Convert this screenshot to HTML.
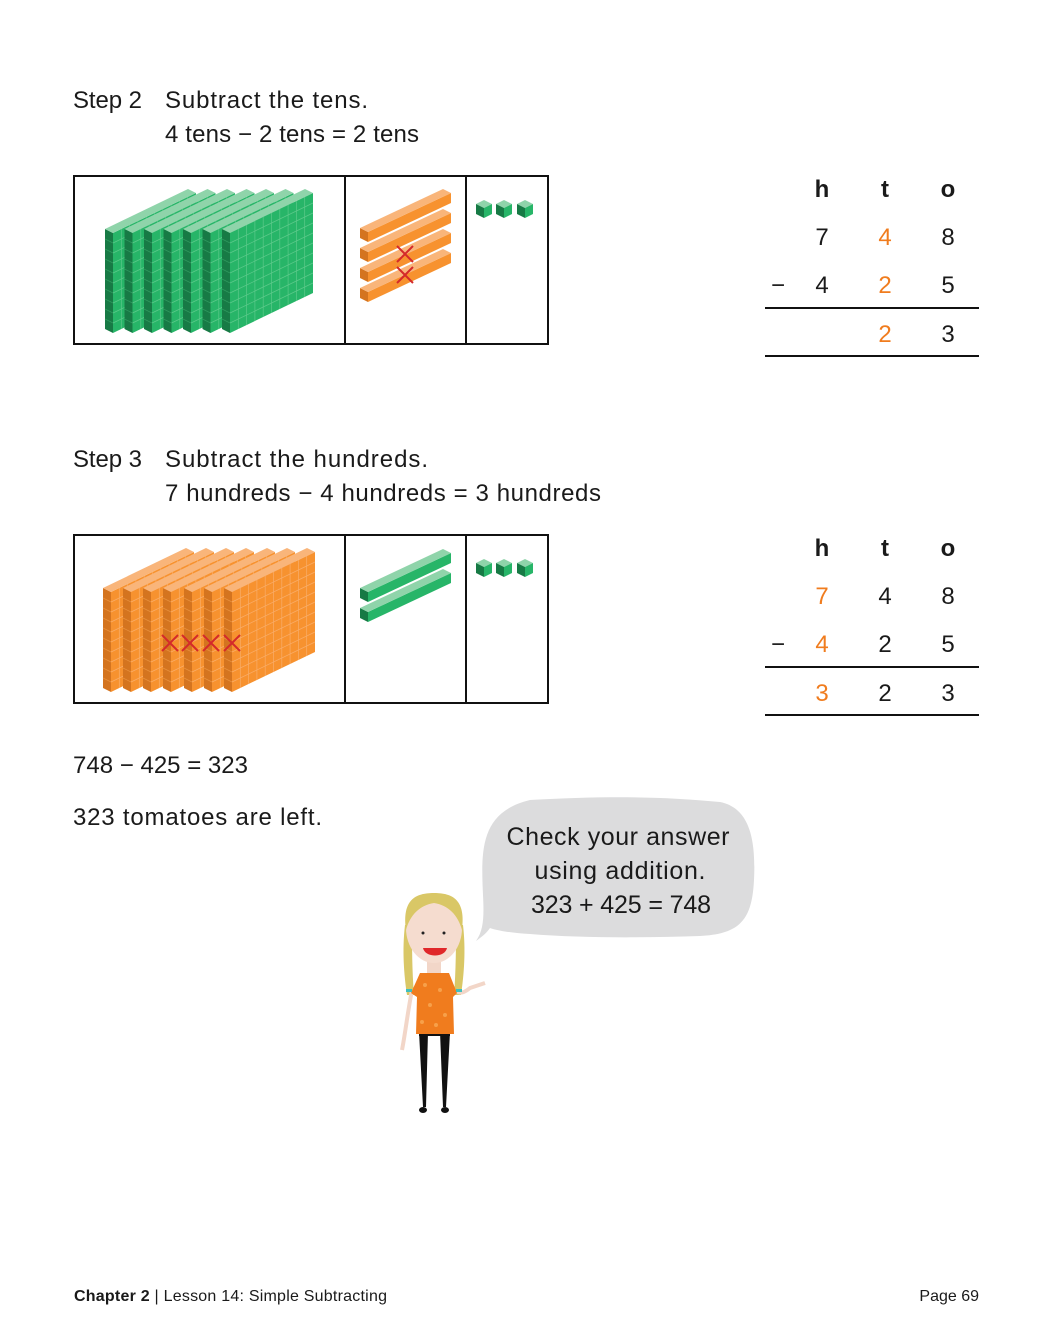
<!DOCTYPE html>
<html><head><meta charset="utf-8"><style>
html,body{margin:0;padding:0;background:#fff}
svg{display:block}
text{font-family:"Liberation Sans",sans-serif;fill:#1a1a1a}
</style></head><body>
<svg width="1040" height="1330" viewBox="0 0 1040 1330" xmlns="http://www.w3.org/2000/svg">
<defs>
<g id="gflat">
<path d="M0,3 L8,7 L8,107 L0,103 Z" fill="#177a45"/>
<path d="M8,7 L91,-33 L91,67 L8,107 Z" fill="#27b568"/>
<path d="M0,3 L8,7 L91,-33 L83,-37 Z" fill="#8fd4aa"/>
<g stroke="#5cc98a" stroke-width="0.7" fill="none">
<path d="M16.3,3 v100 M24.6,-1 v100 M32.9,-5 v100 M41.2,-9 v100 M49.5,-13 v100 M57.8,-17 v100 M66.1,-21 v100 M74.4,-25 v100 M82.7,-29 v100"/>
<path d="M8,17 L91,-23 M8,27 L91,-13 M8,37 L91,-3 M8,47 L91,7 M8,57 L91,17 M8,67 L91,27 M8,77 L91,37 M8,87 L91,47 M8,97 L91,57"/>
<path d="M0,13 L8,17 M0,23 L8,27 M0,33 L8,37 M0,43 L8,47 M0,53 L8,57 M0,63 L8,67 M0,73 L8,77 M0,83 L8,87 M0,93 L8,97" stroke="#2f9a5f"/>
</g>
</g>
<g id="oflat">
<path d="M0,3 L8,7 L8,107 L0,103 Z" fill="#d4741f"/>
<path d="M8,7 L91,-33 L91,67 L8,107 Z" fill="#f7922f"/>
<path d="M0,3 L8,7 L91,-33 L83,-37 Z" fill="#f9b57a"/>
<g stroke="#f9ad6a" stroke-width="0.7" fill="none">
<path d="M16.3,3 v100 M24.6,-1 v100 M32.9,-5 v100 M41.2,-9 v100 M49.5,-13 v100 M57.8,-17 v100 M66.1,-21 v100 M74.4,-25 v100 M82.7,-29 v100"/>
<path d="M8,17 L91,-23 M8,27 L91,-13 M8,37 L91,-3 M8,47 L91,7 M8,57 L91,17 M8,67 L91,27 M8,77 L91,37 M8,87 L91,47 M8,97 L91,57"/>
<path d="M0,13 L8,17 M0,23 L8,27 M0,33 L8,37 M0,43 L8,47 M0,53 L8,57 M0,63 L8,67 M0,73 L8,77 M0,83 L8,87 M0,93 L8,97" stroke="#e8913f"/>
</g>
</g>
<g id="orod">
<path d="M0,2 L8,6 L8,16 L0,12 Z" fill="#d4741f"/>
<path d="M8,6 L91,-33 L91,-23 L8,16 Z" fill="#f7922f"/>
<path d="M0,2 L8,6 L91,-33 L83,-37 Z" fill="#f9b57a"/>
</g>
<g id="grod">
<path d="M0,2 L8,6 L8,16 L0,12 Z" fill="#177a45"/>
<path d="M8,6 L91,-33 L91,-23 L8,16 Z" fill="#27b568"/>
<path d="M0,2 L8,6 L91,-33 L83,-37 Z" fill="#8fd4aa"/>
</g>
<g id="cube">
<path d="M0,4 L8,0 L16,4 L8,8 Z" fill="#8fd4aa"/>
<path d="M0,4 L8,8 L8,18 L0,14 Z" fill="#177a45"/>
<path d="M8,8 L16,4 L16,14 L8,18 Z" fill="#27b568"/>
</g>
<g id="xx"><path d="M-8,-8 L8,8 M8,-8 L-8,8" stroke="#d42a2a" stroke-width="2" fill="none"/></g>
</defs>

<text x="73" y="108" font-size="24" textLength="69">Step 2</text>
<text x="165" y="108" font-size="24" textLength="203">Subtract the tens.</text>
<text x="165" y="142" font-size="24" textLength="254">4 tens − 2 tens = 2 tens</text>

<rect x="74" y="176" width="474" height="168" fill="none" stroke="#111" stroke-width="2"/>
<line x1="345" y1="176" x2="345" y2="344" stroke="#111" stroke-width="2"/>
<line x1="466" y1="176" x2="466" y2="344" stroke="#111" stroke-width="2"/>
<use href="#gflat" x="105" y="226"/><use href="#gflat" x="124.5" y="226"/><use href="#gflat" x="144" y="226"/><use href="#gflat" x="163.5" y="226"/><use href="#gflat" x="183" y="226"/><use href="#gflat" x="202.5" y="226"/><use href="#gflat" x="222" y="226"/>
<use href="#orod" x="360" y="226"/><use href="#orod" x="360" y="246"/><use href="#orod" x="360" y="266"/><use href="#orod" x="360" y="286"/>
<use href="#xx" x="405" y="254"/><use href="#xx" x="405" y="275"/>
<use href="#cube" x="476" y="200"/><use href="#cube" x="496" y="200"/><use href="#cube" x="517" y="200"/>

<g font-size="24" text-anchor="middle">
<text x="822" y="197" font-weight="bold">h</text><text x="885" y="197" font-weight="bold">t</text><text x="948" y="197" font-weight="bold">o</text>
<text x="822" y="245">7</text><text x="885" y="245" style="fill:#f07c1e">4</text><text x="948" y="245">8</text>
<text x="778" y="293">−</text><text x="822" y="293">4</text><text x="885" y="293" style="fill:#f07c1e">2</text><text x="948" y="293">5</text>
<text x="885" y="342" style="fill:#f07c1e">2</text><text x="948" y="342">3</text>
</g>
<line x1="765" y1="308" x2="979" y2="308" stroke="#111" stroke-width="2"/>
<line x1="765" y1="356" x2="979" y2="356" stroke="#111" stroke-width="2"/>

<text x="73" y="467" font-size="24" textLength="69">Step 3</text>
<text x="165" y="467" font-size="24" textLength="263">Subtract the hundreds.</text>
<text x="165" y="501" font-size="24" textLength="436">7 hundreds − 4 hundreds = 3 hundreds</text>

<rect x="74" y="535" width="474" height="168" fill="none" stroke="#111" stroke-width="2"/>
<line x1="345" y1="535" x2="345" y2="703" stroke="#111" stroke-width="2"/>
<line x1="466" y1="535" x2="466" y2="703" stroke="#111" stroke-width="2"/>
<use href="#oflat" x="103" y="585"/><use href="#oflat" x="123" y="585"/><use href="#oflat" x="143" y="585"/><use href="#oflat" x="163" y="585"/><use href="#oflat" x="184" y="585"/><use href="#oflat" x="204" y="585"/><use href="#oflat" x="224" y="585"/>
<use href="#xx" x="170" y="643"/><use href="#xx" x="190" y="643"/><use href="#xx" x="211" y="643"/><use href="#xx" x="232" y="643"/>
<use href="#grod" x="360" y="586"/><use href="#grod" x="360" y="606"/>
<use href="#cube" x="476" y="559"/><use href="#cube" x="496" y="559"/><use href="#cube" x="517" y="559"/>

<g font-size="24" text-anchor="middle">
<text x="822" y="556" font-weight="bold">h</text><text x="885" y="556" font-weight="bold">t</text><text x="948" y="556" font-weight="bold">o</text>
<text x="822" y="604" style="fill:#f07c1e">7</text><text x="885" y="604">4</text><text x="948" y="604">8</text>
<text x="778" y="652">−</text><text x="822" y="652" style="fill:#f07c1e">4</text><text x="885" y="652">2</text><text x="948" y="652">5</text>
<text x="822" y="701" style="fill:#f07c1e">3</text><text x="885" y="701">2</text><text x="948" y="701">3</text>
</g>
<line x1="765" y1="667" x2="979" y2="667" stroke="#111" stroke-width="2"/>
<line x1="765" y1="715" x2="979" y2="715" stroke="#111" stroke-width="2"/>

<text x="73" y="773" font-size="24" textLength="175">748 − 425 = 323</text>
<text x="73" y="825" font-size="24" textLength="249">323 tomatoes are left.</text>

<path d="M530,800 C600,796 660,796 720,802 C750,808 756,840 754,880 C752,920 740,934 700,936 C640,938 580,938 530,934 C510,933 495,930 490,928 C486,934 480,938 476,941 C484,930 484,915 483,895 C481,850 480,812 530,800 Z" fill="#dcdcdd"/>
<g font-size="25" text-anchor="middle">
<text x="618" y="845" textLength="223">Check your answer</text>
<text x="620" y="879" textLength="171">using addition.</text>
<text x="621" y="913" textLength="180">323 + 425 = 748</text>
</g>

<g>
<path d="M405,925 C402,950 404,975 407,995 L414,995 C412,970 412,945 412,925 Z" fill="#d9c766"/>
<path d="M463,925 C466,950 464,975 461,995 L454,995 C456,970 456,945 456,925 Z" fill="#d9c766"/>
<rect x="427" y="958" width="14" height="16" fill="#f2d6c8"/>
<ellipse cx="434" cy="928" rx="28" ry="35" fill="#f5dccf"/>
<path d="M406,930 C402,900 415,893 434,893 C453,893 466,900 462,930 C458,915 448,905 434,903 C420,905 410,915 406,930 Z" fill="#d9c766"/>
<circle cx="423" cy="933" r="1.5" fill="#222"/><circle cx="444" cy="933" r="1.5" fill="#222"/>
<path d="M423,948 L447,948 C445,958 425,958 423,948 Z" fill="#e0282a"/>
<path d="M412,990 C408,1010 405,1035 402,1050" stroke="#f2d6c8" stroke-width="4" fill="none"/>
<path d="M456,990 C460,995 465,992 470,988 L485,983" stroke="#f2d6c8" stroke-width="4" fill="none"/>
<rect x="419" y="1030" width="31" height="6" fill="#111"/>
<path d="M419,1032 L428,1032 L426,1107 L423,1107 Z M440,1032 L450,1032 L446,1107 L443,1107 Z" fill="#111"/>
<ellipse cx="423" cy="1110" rx="4" ry="3" fill="#111"/><ellipse cx="445" cy="1110" rx="4" ry="3" fill="#111"/>
<path d="M420,973 L449,973 L457,993 L453,997 L454,1034 L416,1034 L417,997 L411,993 Z" fill="#f07c1e"/>
<g fill="#f7a04a"><circle cx="425" cy="985" r="2"/><circle cx="440" cy="990" r="2"/><circle cx="430" cy="1005" r="2"/><circle cx="445" cy="1015" r="2"/><circle cx="422" cy="1022" r="2"/><circle cx="436" cy="1025" r="2"/></g>
<rect x="406" y="989" width="6" height="3" fill="#3fbfbf"/><rect x="456" y="989" width="6" height="3" fill="#3fbfbf"/>
</g>

<text x="74" y="1301" font-size="16" textLength="313"><tspan font-weight="bold">Chapter 2</tspan> | Lesson 14: Simple Subtracting</text>
<text x="979" y="1301" font-size="16" text-anchor="end">Page 69</text>
</svg>
</body></html>
